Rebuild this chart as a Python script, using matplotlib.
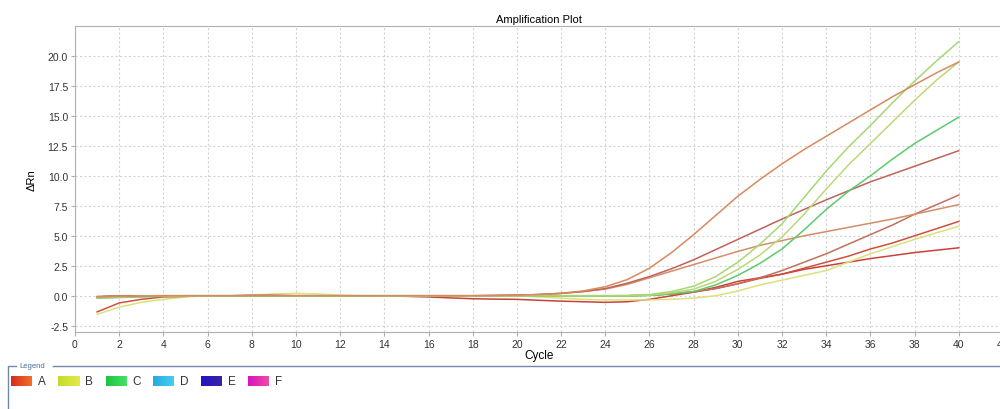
import matplotlib
matplotlib.use("Agg")
import matplotlib.pyplot as plt
import numpy as np
from matplotlib.colors import LinearSegmentedColormap

plt.rcParams["font.family"] = ["Liberation Sans", "DejaVu Sans"]

cycles = list(range(1, 41))

# one list per trace (delta Rn per cycle)
big_orange = [-0.10, -0.05, -0.05, 0.00, 0.00, 0.00, 0.00, 0.00, 0.00, 0.00,
              0.00, 0.00, 0.00, 0.00, 0.00, 0.00, 0.00, 0.00, 0.02, 0.05,
              0.10, 0.20, 0.40, 0.75, 1.35, 2.30, 3.60, 5.10, 6.70, 8.30,
              9.70, 11.0, 12.2, 13.3, 14.4, 15.5, 16.6, 17.6, 18.6, 19.5]
light_green = [-0.15, -0.10, -0.05, 0.00, 0.00, 0.00, 0.00, 0.00, 0.00, 0.00,
               0.00, 0.00, 0.00, 0.00, 0.00, 0.00, 0.00, 0.00, 0.00, 0.00,
               0.00, 0.00, 0.00, 0.00, 0.02, 0.10, 0.35, 0.80, 1.60, 2.80,
               4.30, 6.00, 8.20, 10.4, 12.4, 14.2, 16.1, 17.9, 19.6, 21.2]
yellow_green = [-0.15, -0.10, -0.05, 0.00, 0.00, 0.00, 0.00, 0.00, 0.00, 0.00,
                0.00, 0.00, 0.00, 0.00, 0.00, 0.00, 0.00, 0.00, 0.00, 0.00,
                0.00, 0.00, 0.00, 0.00, 0.00, 0.05, 0.25, 0.55, 1.20, 2.20,
                3.40, 4.90, 6.80, 8.90, 10.9, 12.7, 14.5, 16.3, 18.0, 19.5]
green = [-0.20, -0.15, -0.10, -0.05, 0.00, 0.00, 0.00, 0.00, 0.00, 0.00,
         0.00, 0.00, 0.00, 0.00, 0.00, 0.00, 0.00, 0.00, 0.00, 0.00,
         0.00, 0.00, 0.00, 0.00, 0.00, 0.02, 0.15, 0.35, 0.90, 1.70,
         2.70, 3.90, 5.50, 7.20, 8.70, 10.0, 11.4, 12.7, 13.8, 14.9]
red_brown = [-0.10, -0.05, 0.00, 0.00, 0.00, 0.00, 0.00, 0.00, 0.00, 0.00,
             0.00, 0.00, 0.00, 0.00, 0.00, 0.00, 0.00, 0.00, 0.02, 0.05,
             0.10, 0.20, 0.35, 0.60, 1.05, 1.60, 2.25, 3.00, 3.85, 4.70,
             5.55, 6.40, 7.20, 8.00, 8.75, 9.50, 10.15, 10.8, 11.45, 12.1]
orange_brown = [-0.05, 0.00, 0.00, 0.00, 0.00, 0.00, 0.00, 0.00, 0.00, 0.00,
                0.00, 0.00, 0.00, 0.00, 0.00, 0.00, 0.00, 0.00, 0.02, 0.05,
                0.10, 0.20, 0.35, 0.55, 0.95, 1.50, 2.05, 2.60, 3.15, 3.70,
                4.20, 4.60, 5.00, 5.35, 5.70, 6.05, 6.40, 6.80, 7.20, 7.60]
brown = [-0.10, 0.00, 0.00, 0.00, 0.00, 0.00, 0.00, 0.05, 0.05, 0.00,
         0.00, 0.00, 0.00, 0.00, 0.00, 0.00, 0.00, 0.00, 0.00, 0.00,
         0.00, 0.00, 0.00, 0.00, 0.00, 0.05, 0.15, 0.35, 0.60, 1.00,
         1.50, 2.10, 2.80, 3.50, 4.30, 5.10, 5.90, 6.80, 7.60, 8.40]
red = [-1.35, -0.60, -0.30, -0.10, -0.05, 0.00, 0.00, 0.00, 0.00, 0.00,
       0.00, 0.00, 0.00, 0.00, 0.00, 0.00, 0.00, 0.00, 0.00, 0.00,
       0.00, 0.00, 0.00, 0.00, 0.00, 0.05, 0.15, 0.30, 0.60, 1.00,
       1.45, 1.80, 2.30, 2.80, 3.30, 3.90, 4.40, 5.00, 5.60, 6.20]
yellow = [-1.55, -0.95, -0.55, -0.30, -0.10, 0.00, 0.00, 0.05, 0.15, 0.20,
          0.15, 0.05, 0.00, 0.00, 0.00, 0.00, 0.00, 0.00, 0.00, 0.00,
          -0.10, -0.20, -0.30, -0.35, -0.35, -0.35, -0.30, -0.20, 0.00, 0.40,
          0.90, 1.30, 1.70, 2.10, 2.80, 3.50, 4.10, 4.70, 5.25, 5.80]
dark_red = [-0.10, 0.00, 0.00, 0.00, 0.00, 0.00, 0.00, 0.00, 0.00, 0.00,
            0.00, 0.00, 0.00, 0.00, -0.05, -0.10, -0.18, -0.25, -0.28, -0.30,
            -0.38, -0.45, -0.50, -0.55, -0.50, -0.30, 0.00, 0.30, 0.70, 1.20,
            1.50, 1.80, 2.20, 2.50, 2.80, 3.10, 3.35, 3.60, 3.80, 4.00]

traces = [
    (dark_red, "#c8423c"),
    (yellow, "#d9e27a"),
    (red, "#cf4f3e"),
    (brown, "#c2705e"),
    (orange_brown, "#d48d68"),
    (red_brown, "#c0625a"),
    (green, "#5ccb6e"),
    (yellow_green, "#bcd878"),
    (light_green, "#a5d874"),
    (big_orange, "#d68a5e"),
]

legend_names = ["A", "B", "C", "D", "E", "F"]
legend_colors = [("#d92a1e", "#f0702a"), ("#c4dc28", "#e4ea4a"),
                 ("#1cc440", "#46e068"), ("#22acdc", "#48ccf2"),
                 ("#2414c2", "#3a22a8"), ("#d814c4", "#f04aa6")]

fig = plt.figure(figsize=(10, 4.1), dpi=100)
ax = fig.add_axes([0.075, 0.1885, 0.928, 0.7457])

for vals, col in traces:
    ax.plot(cycles, vals, color=col, lw=1.1)

ax.set_xlim(0, 42)
ax.set_ylim(-3, 22.5)
ax.set_xticks(range(0, 43, 2))
ax.set_yticks(np.arange(-2.5, 20.1, 2.5))
ax.yaxis.set_major_formatter(matplotlib.ticker.FormatStrFormatter("%.1f"))
ax.grid(True, color="#d4d4d4", ls=(0, (2, 2)), lw=0.8)
ax.set_axisbelow(True)
for side in ["left", "bottom", "top"]:
    ax.spines[side].set_color("#b0b0b0")
ax.spines["right"].set_visible(False)
ax.tick_params(colors="#b0b0b0", labelcolor="#333333", labelsize=7.5, length=3, pad=2)

ax.set_title("Amplification Plot", fontsize=8, pad=3)
ax.set_xlabel("Cycle", fontsize=8.5, labelpad=0)
ax.set_ylabel("ΔRn", fontsize=8, labelpad=8)

# legend frame drawn in figure pixels
ov = fig.add_axes([0, 0, 1, 1])
ov.set_xlim(0, 1000)
ov.set_ylim(410, 0)
ov.axis("off")
ov.plot([8, 8, 16], [412, 367, 367], color="#6f8aa6", lw=1.0)
ov.plot([53, 1000], [367, 367], color="#6f8aa6", lw=1.0)
ov.text(19, 367, "Legend", fontsize=5.5, color="#4a6f96", va="center", ha="left")

for i, (name, (c0, c1)) in enumerate(zip(legend_names, legend_colors)):
    x0 = 11 + i * 47.4
    cmap = LinearSegmentedColormap.from_list(name, [c0, c1])
    ov.imshow(np.linspace(0, 1, 32).reshape(1, -1), cmap=cmap, aspect="auto",
              extent=(x0, x0 + 21, 387, 377), zorder=2)
    ov.text(x0 + 27, 382.5, name, fontsize=8.5, color="#333333", va="center", ha="left")
ov.set_xlim(0, 1000)
ov.set_ylim(410, 0)

fig.savefig("out.png", dpi=100)
